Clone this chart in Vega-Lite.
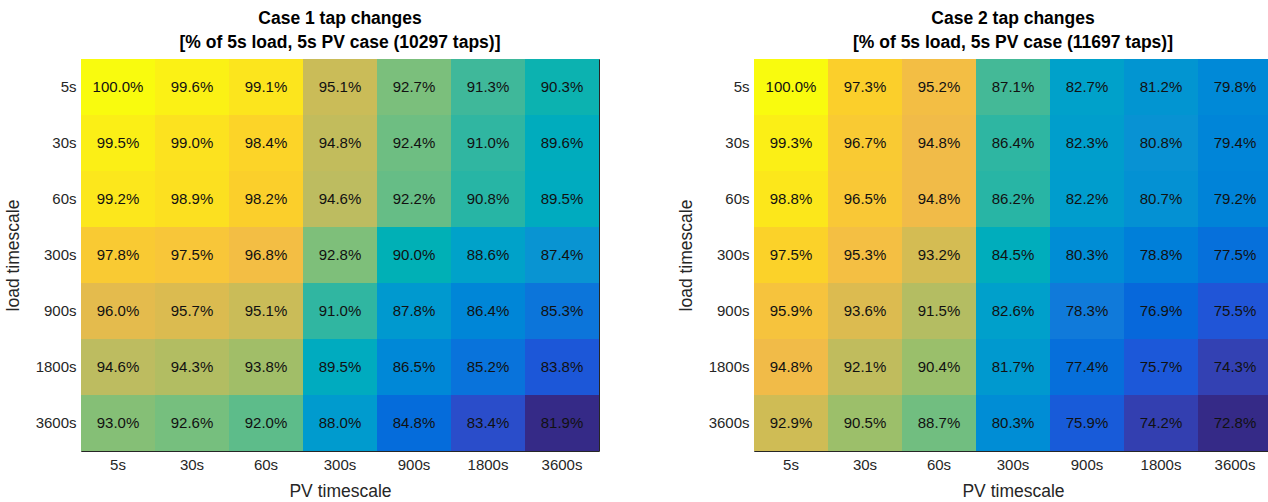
{
  "$schema": "https://vega.github.io/schema/vega-lite/v6.json",
  "background": "white",
  "padding": {"left": 3, "top": 9, "right": 0, "bottom": 0},
  "config": {
    "font": "Liberation Sans",
    "view": {"stroke": "#262626", "strokeWidth": 1},
    "axis": {"labelColor": "#262626", "labelFontSize": 15, "titleColor": "#262626", "titleFontSize": 17.5, "titleFontWeight": "normal", "tickColor": "#262626", "tickWidth": 1, "domain": false, "grid": false, "labelAngle": 0, "zindex": 2},
    "title": {"fontSize": 17.5, "fontWeight": "bold", "color": "#000000", "lineHeight": 24, "offset": 7}
  },
  "datasets": {
    "case1": [
      {"load": "5s", "pv": "5s", "v": 1.000}, {"load": "5s", "pv": "30s", "v": 0.996}, {"load": "5s", "pv": "60s", "v": 0.991}, {"load": "5s", "pv": "300s", "v": 0.951}, {"load": "5s", "pv": "900s", "v": 0.927}, {"load": "5s", "pv": "1800s", "v": 0.913}, {"load": "5s", "pv": "3600s", "v": 0.903},
      {"load": "30s", "pv": "5s", "v": 0.995}, {"load": "30s", "pv": "30s", "v": 0.990}, {"load": "30s", "pv": "60s", "v": 0.984}, {"load": "30s", "pv": "300s", "v": 0.948}, {"load": "30s", "pv": "900s", "v": 0.924}, {"load": "30s", "pv": "1800s", "v": 0.910}, {"load": "30s", "pv": "3600s", "v": 0.896},
      {"load": "60s", "pv": "5s", "v": 0.992}, {"load": "60s", "pv": "30s", "v": 0.989}, {"load": "60s", "pv": "60s", "v": 0.982}, {"load": "60s", "pv": "300s", "v": 0.946}, {"load": "60s", "pv": "900s", "v": 0.922}, {"load": "60s", "pv": "1800s", "v": 0.908}, {"load": "60s", "pv": "3600s", "v": 0.895},
      {"load": "300s", "pv": "5s", "v": 0.978}, {"load": "300s", "pv": "30s", "v": 0.975}, {"load": "300s", "pv": "60s", "v": 0.968}, {"load": "300s", "pv": "300s", "v": 0.928}, {"load": "300s", "pv": "900s", "v": 0.900}, {"load": "300s", "pv": "1800s", "v": 0.886}, {"load": "300s", "pv": "3600s", "v": 0.874},
      {"load": "900s", "pv": "5s", "v": 0.960}, {"load": "900s", "pv": "30s", "v": 0.957}, {"load": "900s", "pv": "60s", "v": 0.951}, {"load": "900s", "pv": "300s", "v": 0.910}, {"load": "900s", "pv": "900s", "v": 0.878}, {"load": "900s", "pv": "1800s", "v": 0.864}, {"load": "900s", "pv": "3600s", "v": 0.853},
      {"load": "1800s", "pv": "5s", "v": 0.946}, {"load": "1800s", "pv": "30s", "v": 0.943}, {"load": "1800s", "pv": "60s", "v": 0.938}, {"load": "1800s", "pv": "300s", "v": 0.895}, {"load": "1800s", "pv": "900s", "v": 0.865}, {"load": "1800s", "pv": "1800s", "v": 0.852}, {"load": "1800s", "pv": "3600s", "v": 0.838},
      {"load": "3600s", "pv": "5s", "v": 0.930}, {"load": "3600s", "pv": "30s", "v": 0.926}, {"load": "3600s", "pv": "60s", "v": 0.920}, {"load": "3600s", "pv": "300s", "v": 0.880}, {"load": "3600s", "pv": "900s", "v": 0.848}, {"load": "3600s", "pv": "1800s", "v": 0.834}, {"load": "3600s", "pv": "3600s", "v": 0.819}
    ],
    "case2": [
      {"load": "5s", "pv": "5s", "v": 1.000}, {"load": "5s", "pv": "30s", "v": 0.973}, {"load": "5s", "pv": "60s", "v": 0.952}, {"load": "5s", "pv": "300s", "v": 0.871}, {"load": "5s", "pv": "900s", "v": 0.827}, {"load": "5s", "pv": "1800s", "v": 0.812}, {"load": "5s", "pv": "3600s", "v": 0.798},
      {"load": "30s", "pv": "5s", "v": 0.993}, {"load": "30s", "pv": "30s", "v": 0.967}, {"load": "30s", "pv": "60s", "v": 0.948}, {"load": "30s", "pv": "300s", "v": 0.864}, {"load": "30s", "pv": "900s", "v": 0.823}, {"load": "30s", "pv": "1800s", "v": 0.808}, {"load": "30s", "pv": "3600s", "v": 0.794},
      {"load": "60s", "pv": "5s", "v": 0.988}, {"load": "60s", "pv": "30s", "v": 0.965}, {"load": "60s", "pv": "60s", "v": 0.948}, {"load": "60s", "pv": "300s", "v": 0.862}, {"load": "60s", "pv": "900s", "v": 0.822}, {"load": "60s", "pv": "1800s", "v": 0.807}, {"load": "60s", "pv": "3600s", "v": 0.792},
      {"load": "300s", "pv": "5s", "v": 0.975}, {"load": "300s", "pv": "30s", "v": 0.953}, {"load": "300s", "pv": "60s", "v": 0.932}, {"load": "300s", "pv": "300s", "v": 0.845}, {"load": "300s", "pv": "900s", "v": 0.803}, {"load": "300s", "pv": "1800s", "v": 0.788}, {"load": "300s", "pv": "3600s", "v": 0.775},
      {"load": "900s", "pv": "5s", "v": 0.959}, {"load": "900s", "pv": "30s", "v": 0.936}, {"load": "900s", "pv": "60s", "v": 0.915}, {"load": "900s", "pv": "300s", "v": 0.826}, {"load": "900s", "pv": "900s", "v": 0.783}, {"load": "900s", "pv": "1800s", "v": 0.769}, {"load": "900s", "pv": "3600s", "v": 0.755},
      {"load": "1800s", "pv": "5s", "v": 0.948}, {"load": "1800s", "pv": "30s", "v": 0.921}, {"load": "1800s", "pv": "60s", "v": 0.904}, {"load": "1800s", "pv": "300s", "v": 0.817}, {"load": "1800s", "pv": "900s", "v": 0.774}, {"load": "1800s", "pv": "1800s", "v": 0.757}, {"load": "1800s", "pv": "3600s", "v": 0.743},
      {"load": "3600s", "pv": "5s", "v": 0.929}, {"load": "3600s", "pv": "30s", "v": 0.905}, {"load": "3600s", "pv": "60s", "v": 0.887}, {"load": "3600s", "pv": "300s", "v": 0.803}, {"load": "3600s", "pv": "900s", "v": 0.759}, {"load": "3600s", "pv": "1800s", "v": 0.742}, {"load": "3600s", "pv": "3600s", "v": 0.728}
    ]
  },
  "spacing": 76,
  "resolve": {"scale": {"color": "independent"}},
  "hconcat": [
    {
      "width": 518,
      "height": 392,
      "data": {"name": "case1"},
      "title": {"text": ["Case 1 tap changes", "[% of 5s load, 5s PV case (10297 taps)]"]},
      "layer": [
        {
          "mark": {"type": "rect"},
          "encoding": {
            "x": {"field": "pv", "type": "nominal", "sort": ["5s", "30s", "60s", "300s", "900s", "1800s", "3600s"], "scale": {"paddingInner": 0, "paddingOuter": 0}, "axis": {"title": "PV timescale", "orient": "bottom", "tickSize": -5, "labelPadding": 11, "titlePadding": 10}},
            "y": {"field": "load", "type": "nominal", "sort": ["5s", "30s", "60s", "300s", "900s", "1800s", "3600s"], "scale": {"paddingInner": 0, "paddingOuter": 0}, "axis": {"title": "load timescale", "orient": "left", "tickSize": -5, "labelPadding": 10, "minExtent": 50, "maxExtent": 50, "titlePadding": 9}},
            "color": {"field": "v", "type": "quantitative", "legend": null, "scale": {"type": "linear", "domain": [0.819, 0.8371, 0.8552, 0.8733, 0.8914, 0.9095, 0.9276, 0.9457, 0.9638, 0.9819, 1.0], "range": ["#352a87", "#1f55d8", "#1279da", "#0e93d2", "#07a8c4", "#2eb6a2", "#7dbf7b", "#bcbc60", "#f0b94a", "#fbcf2b", "#f9fb0e"]}}
          }
        },
        {
          "mark": {"type": "text", "fontSize": 15, "color": "#111111"},
          "encoding": {
            "x": {"field": "pv", "type": "nominal", "sort": ["5s", "30s", "60s", "300s", "900s", "1800s", "3600s"], "axis": {"orient": "top", "labels": false, "title": null, "tickSize": -5, "minExtent": 0, "maxExtent": 0}},
            "y": {"field": "load", "type": "nominal", "sort": ["5s", "30s", "60s", "300s", "900s", "1800s", "3600s"], "axis": {"orient": "right", "labels": false, "title": null, "tickSize": -5, "minExtent": 0, "maxExtent": 0}},
            "text": {"field": "v", "type": "quantitative", "format": ".1%"}
          }
        }
      ],
      "resolve": {"axis": {"x": "independent", "y": "independent"}}
    },
    {
      "width": 518,
      "height": 392,
      "data": {"name": "case2"},
      "title": {"text": ["Case 2 tap changes", "[% of 5s load, 5s PV case (11697 taps)]"]},
      "layer": [
        {
          "mark": {"type": "rect"},
          "encoding": {
            "x": {"field": "pv", "type": "nominal", "sort": ["5s", "30s", "60s", "300s", "900s", "1800s", "3600s"], "scale": {"paddingInner": 0, "paddingOuter": 0}, "axis": {"title": "PV timescale", "orient": "bottom", "tickSize": -5, "labelPadding": 11, "titlePadding": 10}},
            "y": {"field": "load", "type": "nominal", "sort": ["5s", "30s", "60s", "300s", "900s", "1800s", "3600s"], "scale": {"paddingInner": 0, "paddingOuter": 0}, "axis": {"title": "load timescale", "orient": "left", "tickSize": -5, "labelPadding": 10, "minExtent": 50, "maxExtent": 50, "titlePadding": 9}},
            "color": {"field": "v", "type": "quantitative", "legend": null, "scale": {"type": "linear", "domain": [0.728, 0.7552, 0.7824, 0.8096, 0.8368, 0.864, 0.8912, 0.9184, 0.9456, 0.9728, 1.0], "range": ["#352a87", "#1f55d8", "#1279da", "#0e93d2", "#07a8c4", "#2eb6a2", "#7dbf7b", "#bcbc60", "#f0b94a", "#fbcf2b", "#f9fb0e"]}}
          }
        },
        {
          "mark": {"type": "text", "fontSize": 15, "color": "#111111"},
          "encoding": {
            "x": {"field": "pv", "type": "nominal", "sort": ["5s", "30s", "60s", "300s", "900s", "1800s", "3600s"], "axis": {"orient": "top", "labels": false, "title": null, "tickSize": -5, "minExtent": 0, "maxExtent": 0}},
            "y": {"field": "load", "type": "nominal", "sort": ["5s", "30s", "60s", "300s", "900s", "1800s", "3600s"], "axis": {"orient": "right", "labels": false, "title": null, "tickSize": -5, "minExtent": 0, "maxExtent": 0}},
            "text": {"field": "v", "type": "quantitative", "format": ".1%"}
          }
        }
      ],
      "resolve": {"axis": {"x": "independent", "y": "independent"}}
    }
  ]
}
